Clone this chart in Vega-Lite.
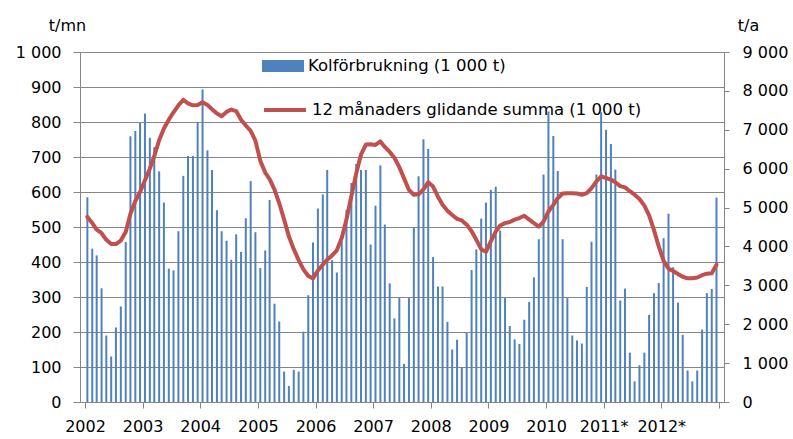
{
  "$schema": "https://vega.github.io/schema/vega-lite/v6.json",
  "width": 644,
  "height": 350,
  "autosize": {"type": "none"},
  "padding": {"left": 80, "top": 52, "right": 69, "bottom": 37},
  "background": "white",
  "config": {
    "view": {"stroke": null},
    "font": "DejaVu Sans",
    "axis": {
      "labelFont": "DejaVu Sans",
      "labelFontSize": 16,
      "labelColor": "#000000",
      "titleFont": "DejaVu Sans",
      "titleFontSize": 16,
      "titleFontWeight": "normal",
      "titleColor": "#000000",
      "domainColor": "#868686",
      "tickColor": "#868686",
      "gridColor": "#868686",
      "domainWidth": 1,
      "tickWidth": 1,
      "gridWidth": 1
    }
  },
  "data": {"values": [
    {"d":"2002-01-16","v":585,"s":4760},{"d":"2002-02-16","v":438,"s":4600},{"d":"2002-03-16","v":419,"s":4430},{"d":"2002-04-16","v":325,"s":4340},{"d":"2002-05-16","v":190,"s":4170},{"d":"2002-06-16","v":130,"s":4060},{"d":"2002-07-16","v":213,"s":4060},{"d":"2002-08-16","v":273,"s":4150},{"d":"2002-09-16","v":457,"s":4370},{"d":"2002-10-16","v":759,"s":4840},{"d":"2002-11-16","v":774,"s":5170},{"d":"2002-12-16","v":798,"s":5400},
    {"d":"2003-01-16","v":824,"s":5700},{"d":"2003-02-16","v":755,"s":6000},{"d":"2003-03-16","v":728,"s":6320},{"d":"2003-04-16","v":659,"s":6730},{"d":"2003-05-16","v":570,"s":7035},{"d":"2003-06-16","v":381,"s":7260},{"d":"2003-07-16","v":376,"s":7450},{"d":"2003-08-16","v":488,"s":7630},{"d":"2003-09-16","v":646,"s":7770},{"d":"2003-10-16","v":703,"s":7680},{"d":"2003-11-16","v":703,"s":7630},{"d":"2003-12-16","v":799,"s":7640},
    {"d":"2004-01-16","v":893,"s":7710},{"d":"2004-02-16","v":719,"s":7640},{"d":"2004-03-16","v":663,"s":7530},{"d":"2004-04-16","v":548,"s":7420},{"d":"2004-05-16","v":488,"s":7350},{"d":"2004-06-16","v":461,"s":7460},{"d":"2004-07-16","v":406,"s":7520},{"d":"2004-08-16","v":479,"s":7480},{"d":"2004-09-16","v":429,"s":7260},{"d":"2004-10-16","v":525,"s":7110},{"d":"2004-11-16","v":631,"s":6970},{"d":"2004-12-16","v":485,"s":6720},
    {"d":"2005-01-16","v":383,"s":6200},{"d":"2005-02-16","v":433,"s":5900},{"d":"2005-03-16","v":577,"s":5730},{"d":"2005-04-16","v":281,"s":5460},{"d":"2005-05-16","v":230,"s":5110},{"d":"2005-06-16","v":87,"s":4690},{"d":"2005-07-16","v":46,"s":4260},{"d":"2005-08-16","v":92,"s":3930},{"d":"2005-09-16","v":87,"s":3650},{"d":"2005-10-16","v":201,"s":3410},{"d":"2005-11-16","v":305,"s":3240},{"d":"2005-12-16","v":456,"s":3180},
    {"d":"2006-01-16","v":553,"s":3380},{"d":"2006-02-16","v":593,"s":3530},{"d":"2006-03-16","v":663,"s":3660},{"d":"2006-04-16","v":405,"s":3770},{"d":"2006-05-16","v":370,"s":3900},{"d":"2006-06-16","v":461,"s":4220},{"d":"2006-07-16","v":549,"s":4690},{"d":"2006-08-16","v":626,"s":5290},{"d":"2006-09-16","v":680,"s":5880},{"d":"2006-10-16","v":663,"s":6360},{"d":"2006-11-16","v":663,"s":6620},{"d":"2006-12-16","v":450,"s":6630},
    {"d":"2007-01-16","v":561,"s":6610},{"d":"2007-02-16","v":676,"s":6700},{"d":"2007-03-16","v":507,"s":6560},{"d":"2007-04-16","v":339,"s":6430},{"d":"2007-05-16","v":239,"s":6280},{"d":"2007-06-16","v":297,"s":6040},{"d":"2007-07-16","v":109,"s":5750},{"d":"2007-08-16","v":297,"s":5450},{"d":"2007-09-16","v":499,"s":5330},{"d":"2007-10-16","v":645,"s":5340},{"d":"2007-11-16","v":751,"s":5470},{"d":"2007-12-16","v":723,"s":5650},
    {"d":"2008-01-16","v":414,"s":5540},{"d":"2008-02-16","v":330,"s":5280},{"d":"2008-03-16","v":330,"s":5070},{"d":"2008-04-16","v":229,"s":4920},{"d":"2008-05-16","v":150,"s":4810},{"d":"2008-06-16","v":178,"s":4710},{"d":"2008-07-16","v":98,"s":4670},{"d":"2008-08-16","v":197,"s":4560},{"d":"2008-09-16","v":377,"s":4390},{"d":"2008-10-16","v":436,"s":4170},{"d":"2008-11-16","v":524,"s":3930},{"d":"2008-12-16","v":570,"s":3860},
    {"d":"2009-01-16","v":606,"s":4130},{"d":"2009-02-16","v":615,"s":4380},{"d":"2009-03-16","v":490,"s":4540},{"d":"2009-04-16","v":297,"s":4600},{"d":"2009-05-16","v":217,"s":4630},{"d":"2009-06-16","v":179,"s":4690},{"d":"2009-07-16","v":166,"s":4730},{"d":"2009-08-16","v":235,"s":4790},{"d":"2009-09-16","v":286,"s":4690},{"d":"2009-10-16","v":356,"s":4600},{"d":"2009-11-16","v":465,"s":4510},{"d":"2009-12-16","v":650,"s":4640},
    {"d":"2010-01-16","v":830,"s":4900},{"d":"2010-02-16","v":760,"s":5070},{"d":"2010-03-16","v":660,"s":5240},{"d":"2010-04-16","v":465,"s":5360},{"d":"2010-05-16","v":297,"s":5370},{"d":"2010-06-16","v":190,"s":5370},{"d":"2010-07-16","v":176,"s":5360},{"d":"2010-08-16","v":167,"s":5330},{"d":"2010-09-16","v":329,"s":5370},{"d":"2010-10-16","v":458,"s":5500},{"d":"2010-11-16","v":650,"s":5670},{"d":"2010-12-16","v":828,"s":5800},
    {"d":"2011-01-16","v":778,"s":5760},{"d":"2011-02-16","v":737,"s":5720},{"d":"2011-03-16","v":664,"s":5650},{"d":"2011-04-16","v":290,"s":5550},{"d":"2011-05-16","v":324,"s":5520},{"d":"2011-06-16","v":141,"s":5420},{"d":"2011-07-16","v":59,"s":5330},{"d":"2011-08-16","v":105,"s":5220},{"d":"2011-09-16","v":141,"s":5050},{"d":"2011-10-16","v":249,"s":4800},{"d":"2011-11-16","v":311,"s":4420},{"d":"2011-12-16","v":340,"s":4000},
    {"d":"2012-01-16","v":468,"s":3630},{"d":"2012-02-16","v":538,"s":3430},{"d":"2012-03-16","v":385,"s":3370},{"d":"2012-04-16","v":284,"s":3290},{"d":"2012-05-16","v":192,"s":3220},{"d":"2012-06-16","v":90,"s":3180},{"d":"2012-07-16","v":59,"s":3180},{"d":"2012-08-16","v":90,"s":3200},{"d":"2012-09-16","v":207,"s":3260},{"d":"2012-10-16","v":311,"s":3300},{"d":"2012-11-16","v":323,"s":3310},{"d":"2012-12-16","v":584,"s":3530}
  ]},
  "layer": [
    {
      "mark": {"type": "bar", "size": 2},
      "encoding": {
        "x": {
          "field": "d", "type": "temporal",
          "scale": {"type": "utc", "domain": [{"year": 2002, "month": 1, "date": 1, "utc": true}, {"year": 2013, "month": 1, "date": 1, "utc": true}]},
          "axis": {
            "title": null, "grid": false,
            "tickCount": {"interval": "year", "step": 1},
            "tickSize": 6, "labelPadding": 10,
            "labelOverlap": false, "labelFlush": false, "labelBound": false,
            "labelExpr": "utcyear(datum.value) == 2013 ? '' : (utcyear(datum.value) >= 2011 ? utcyear(datum.value) + '*' : '' + utcyear(datum.value))"
          }
        },
        "y": {
          "field": "v", "type": "quantitative",
          "scale": {"domain": [0, 1000], "nice": false},
          "axis": {
            "title": "t/mn", "titleAngle": 0, "titleAlign": "center", "titleBaseline": "middle",
            "titleX": -13, "titleY": -27,
            "values": [0, 100, 200, 300, 400, 500, 600, 700, 800, 900, 1000],
            "grid": true, "tickSize": 7, "labelPadding": 12,
            "labelExpr": "replace(datum.label, ',', ' ')"
          }
        },
        "fill": {
          "datum": "Kolförbrukning (1 000 t)",
          "scale": {"range": ["#4F81BD"]},
          "legend": {
            "title": null, "orient": "none", "legendX": 182, "legendY": -7, "padding": 0,
            "symbolType": "M-1,-0.29H1V0.29H-1Z", "symbolSize": 1764, "symbolStrokeWidth": 0,
            "labelFont": "DejaVu Sans", "labelFontSize": 16.5, "labelColor": "#000000", "labelOffset": 4, "labelLimit": 500
          }
        }
      }
    },
    {
      "mark": {"type": "line", "strokeWidth": 4, "strokeJoin": "round", "strokeCap": "round"},
      "encoding": {
        "x": {"field": "d", "type": "temporal"},
        "y": {
          "field": "s", "type": "quantitative",
          "scale": {"domain": [0, 9000], "nice": false},
          "axis": {
            "orient": "right",
            "title": "t/a", "titleAngle": 0, "titleAlign": "center", "titleBaseline": "middle",
            "titleX": 24, "titleY": -27,
            "values": [0, 1000, 2000, 3000, 4000, 5000, 6000, 7000, 8000, 9000],
            "grid": false, "tickSize": 5, "labelPadding": 13,
            "labelExpr": "replace(datum.label, ',', ' ')"
          }
        },
        "stroke": {
          "datum": "12 månaders glidande summa (1 000 t)",
          "scale": {"range": ["#C0504D"]},
          "legend": {
            "title": null, "orient": "none", "legendX": 182, "legendY": 35, "padding": 0,
            "symbolType": "stroke", "symbolSize": 1764, "symbolStrokeWidth": 4,
            "labelFont": "DejaVu Sans", "labelFontSize": 16.5, "labelColor": "#000000", "labelOffset": 4, "labelLimit": 500
          }
        }
      }
    }
  ],
  "resolve": {"scale": {"y": "independent"}}
}
